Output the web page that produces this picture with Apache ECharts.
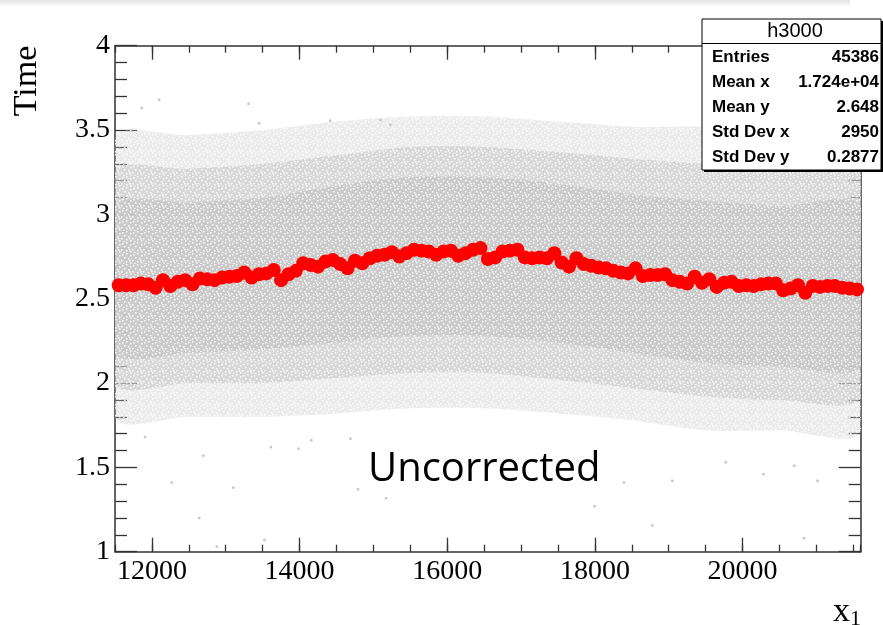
<!DOCTYPE html>
<html>
<head>
<meta charset="utf-8">
<script src="https://cdn.jsdelivr.net/npm/echarts@6/dist/echarts.min.js"></script>
<style>
html,body{margin:0;padding:0;background:#fff;}
#c{width:883px;height:625px;}
</style>
</head>
<body>
<div id="c"></div>
<script>
// ---- profile (red markers) ----
const profX = [11550,11650,11750,11850,11950,12050,12150,12250,12350,12450,
12550,12650,12750,12850,12950,13050,13150,13250,13350,13450,
13550,13650,13750,13850,13950,14050,14150,14250,14350,14450,
14550,14650,14750,14850,14950,15050,15150,15250,15350,15450,
15550,15650,15750,15850,15950,16050,16150,16250,16350,16450,
16550,16650,16750,16850,16950,17050,17150,17250,17350,17450,
17550,17650,17750,17850,17950,18050,18150,18250,18350,18450,
18550,18650,18750,18850,18950,19050,19150,19250,19350,19450,
19550,19650,19750,19850,19950,20050,20150,20250,20350,20450,
20550,20650,20750,20850,20950,21050,21150,21250,21350,21450,21550];
const profY = [2.58,2.58,2.58,2.59,2.585,2.565,2.61,2.575,2.60,2.61,
2.585,2.62,2.615,2.61,2.625,2.63,2.635,2.655,2.625,2.645,
2.65,2.67,2.61,2.645,2.665,2.71,2.70,2.69,2.72,2.73,
2.705,2.68,2.725,2.71,2.74,2.755,2.76,2.775,2.75,2.77,
2.79,2.785,2.78,2.76,2.78,2.785,2.755,2.77,2.79,2.80,
2.735,2.745,2.78,2.785,2.79,2.745,2.74,2.745,2.74,2.77,
2.715,2.69,2.74,2.705,2.695,2.685,2.68,2.665,2.655,2.65,
2.68,2.635,2.64,2.64,2.645,2.61,2.60,2.59,2.63,2.595,
2.615,2.57,2.595,2.60,2.575,2.58,2.575,2.585,2.59,2.59,
2.55,2.56,2.58,2.535,2.575,2.57,2.575,2.575,2.565,2.56,2.555];

// ---- scatter cloud density envelopes ----
const bandX   = [11500,12500,13500,14500,15500,16500,17500,18500,19500,20500,21600];
const outerHi = [3.45,3.47,3.50,3.55,3.58,3.58,3.55,3.52,3.52,3.50,3.50];
const outerLo = [1.80,1.80,1.80,1.82,1.85,1.85,1.82,1.78,1.72,1.72,1.72];
const midHi   = [3.25,3.27,3.30,3.35,3.40,3.40,3.37,3.33,3.30,3.28,3.28];
const midLo   = [2.00,2.00,2.00,2.03,2.06,2.06,2.02,1.97,1.92,1.90,1.92];
const coreHi  = [3.05,3.07,3.10,3.17,3.22,3.22,3.18,3.12,3.08,3.05,3.05];
const coreLo  = [2.18,2.18,2.20,2.24,2.28,2.28,2.24,2.18,2.12,2.10,2.10];

// ---- isolated outlier dots ----
const outX = [11862,12097,13308,13453,14415,15093,15229,12269,13104,12639,14791,15171,11907,12697,13611,13986,14158,14687,13525,12879,18778,17995,20834,21015,19049,18393,20698,19772,20283];
const outY = [3.63,3.68,3.656,3.54,3.556,3.56,3.53,1.41,1.38,1.20,1.37,1.317,1.68,1.57,1.62,1.61,1.66,1.67,1.07,1.03,1.155,1.27,1.08,1.42,1.42,1.41,1.51,1.53,1.46];

// ---- ticks ----
const xMajor = [12000,14000,16000,18000,20000];

// ---- stats box ----
const statsTitle = 'h3000';
const statsNames = ['Entries','Mean x','Mean y','Std Dev x','Std Dev y'];
const statsVals  = ['45386','1.724e+04','2.648','2950','0.2877'];

// speckle texture tile (fixed pattern, styling only)
const tile = document.createElement('canvas');
tile.width = 11; tile.height = 11;
(function(){
  const g = tile.getContext('2d');
  g.fillStyle = 'rgba(255,255,255,0.9)';
  [[1,1],[5,0],[9,2],[3,4],[7,5],[0,7],[5,8],[9,9],[2,10],[8,7]].forEach(p=>g.fillRect(p[0],p[1],1.5,1.5));
})();

const chart = echarts.init(document.getElementById('c'), null, {renderer:'canvas'});

function band(lo, hi, fill) {
  return {
    type: 'custom', silent: true, z: 1, clip: true,
    data: bandX.map((x,i)=>[x, lo[i], hi[i]]),
    renderItem: function(params, api) {
      if (params.dataIndex !== 0) return null;
      const pts = [];
      for (let i = 0; i < bandX.length; i++) pts.push(api.coord([bandX[i], hi[i]]));
      for (let i = bandX.length - 1; i >= 0; i--) pts.push(api.coord([bandX[i], lo[i]]));
      return {type:'polygon', shape:{points:pts, smooth:0.3}, style:{fill:fill}};
    }
  };
}

const axisCol = '#333';
const serif = 'Liberation Serif';
function xAx(pos, major, showLabel, showLine) {
  const a = {
    type:'value', min:11500, max:21600, position:pos,
    axisLine:{show:showLine, onZero:false, lineStyle:{color:axisCol, width:1.5}},
    splitLine:{show:false},
    axisTick:{show:true, inside:true, length: major?14:7, lineStyle:{color:axisCol, width:1.3}},
    axisLabel:{show:showLabel, fontFamily:serif, fontSize:28, color:'#000', margin:6,
               formatter: v => String(v)}
  };
  if (major) { a.axisTick.customValues = xMajor; a.axisLabel.customValues = xMajor; }
  else { a.interval = 500; }
  return a;
}
function yAx(pos, showLabel) {
  return {
    type:'value', min:1, max:4, interval:0.5, position:pos,
    axisLine:{show:true, onZero:false, lineStyle:{color:axisCol, width:1.5}},
    splitLine:{show:false},
    axisTick:{show:true, inside:true, length:22, lineStyle:{color:axisCol, width:1.3}},
    minorTick:{show:true, splitNumber:5, length:12, lineStyle:{color:axisCol, width:1.3}},
    minorSplitLine:{show:false},
    axisLabel:{show:showLabel, fontFamily:serif, fontSize:28, color:'#000', margin:5}
  };
}

const graphics = [
  {type:'rect', shape:{x:0,y:0,width:850,height:7}, z:-1,
   style:{fill:new echarts.graphic.LinearGradient(0,0,0,1,[{offset:0,color:'#e2e2e2'},{offset:1,color:'#ffffff'}])}},
  {type:'text', x:27, y:81, rotation:Math.PI/2, z:50,
   style:{text:'Time', font:'34px "Liberation Serif"', fill:'#000', align:'center', verticalAlign:'middle'}},
  {type:'text', x:833, y:612, z:50,
   style:{text:'{a|x}{b|1}', fill:'#000', align:'left', verticalAlign:'middle',
     rich:{a:{fontFamily:serif, fontSize:34, color:'#000'}, b:{fontFamily:serif, fontSize:22, color:'#000', padding:[14,0,0,0]}}}},
  {type:'text', x:368, y:470, z:50,
   style:{text:'Uncorrected', font:'40px "Open Sans"', fill:'#000', align:'left', verticalAlign:'middle'}},
  // stats box shadow + box
  {type:'rect', shape:{x:704,y:21,width:181,height:151}, z:60, style:{fill:'#000'}},
  {type:'rect', shape:{x:702,y:19,width:179,height:151}, z:61, style:{fill:'#fff', stroke:'#000', lineWidth:1}},
  {type:'line', shape:{x1:702,y1:43.5,x2:881,y2:43.5}, z:62, style:{stroke:'#000', lineWidth:1}},
  {type:'text', x:795, y:31, z:63, style:{text:statsTitle, font:'20px "Liberation Sans"', fill:'#000', align:'center', verticalAlign:'middle'}}
];
statsNames.forEach((n,i)=>{
  graphics.push({type:'text', x:712, y:57+25*i, z:63, style:{text:n, font:'bold 17px "Liberation Sans"', fill:'#000', align:'left', verticalAlign:'middle'}});
  graphics.push({type:'text', x:879, y:57+25*i, z:63, style:{text:statsVals[i], font:'bold 17px "Liberation Sans"', fill:'#000', align:'right', verticalAlign:'middle'}});
});

chart.setOption({
  animation:false,
  backgroundColor:'#fff',
  grid:{left:115, top:45.7, right:22.3, bottom:73.3, containLabel:false},
  xAxis:[xAx('bottom',true,true,true), xAx('bottom',false,false,false), xAx('top',true,false,true), xAx('top',false,false,false)],
  yAxis:[yAx('left',true), yAx('right',false)],
  series:[
    band(outerLo, outerHi, 'rgba(200,200,200,0.35)'),
    band(midLo, midHi, 'rgba(200,200,200,0.55)'),
    band(coreLo, coreHi, 'rgba(200,200,200,0.8)'),
    band(outerLo, outerHi, {image: tile, repeat: 'repeat'}),
    {type:'scatter', silent:true, z:2, symbol:'rect', symbolSize:2.5, itemStyle:{color:'#c8c8c8', opacity:1},
     data: outX.map((x,i)=>[x,outY[i]])},
    {type:'scatter', silent:true, z:5, symbol:'circle', symbolSize:14, itemStyle:{color:'#ff0000', opacity:1},
     data: profX.map((x,i)=>[x,profY[i]])}
  ],
  graphic: graphics
});
</script>
</body>
</html>
